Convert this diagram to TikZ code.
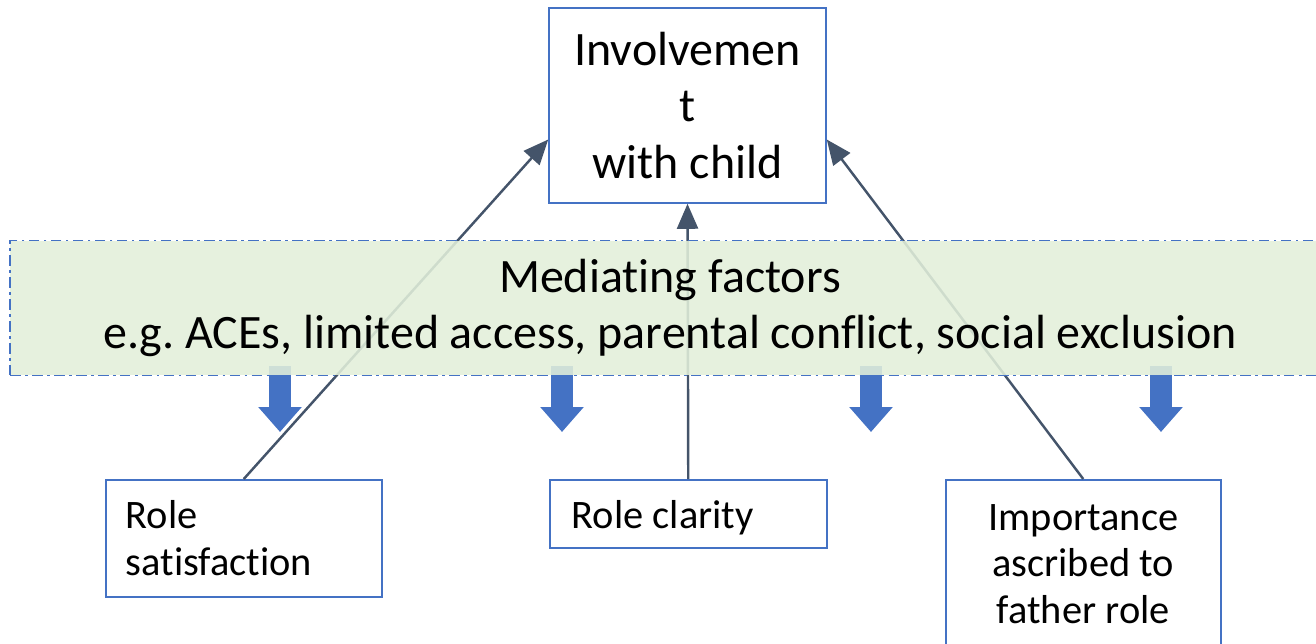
\documentclass[tikz,border=0pt]{standalone}
\usepackage{fontspec}
\setmainfont{Carlito}[Ligatures=NoCommon]
\usetikzlibrary{arrows.meta}

\definecolor{boxblue}{HTML}{4472C4}
\definecolor{slate}{HTML}{44546A}
\definecolor{bandgreen}{HTML}{E2EFDA}

\begin{document}
\frenchspacing
\begin{tikzpicture}[x=0.02cm, y=-0.02cm]
%% picture is laid out in pixels of the 1316x643 drawing
%% (x to the right, y downwards)
\tikzstyle{arc}=[-{Triangle[length=0.5cm,width=0.42cm]},slate,line width=1.4pt]
\tikzstyle{bigtext}=[font=\fontsize{27.3}{32.3}\selectfont]
\tikzstyle{smalltext}=[font=\fontsize{23}{26.6}\selectfont]
\tikzstyle{factorbox}=[draw=boxblue,line width=0.9pt,fill=white,inner sep=0pt,minimum width=5.54cm]
\tikzstyle{band}=[draw=boxblue,line width=1pt,dash pattern=on 6pt off 2.5pt on 1.5pt off 2.5pt,fill=bandgreen,fill opacity=0.88,text opacity=1,inner sep=0pt,minimum width=26.4cm,minimum height=2.7cm]
\tikzstyle{blockarrow}=[-{Triangle[length=0.5cm,width=0.84cm]},boxblue,line width=0.44cm]
\useasboundingbox (0,0) rectangle (1316,643);
%% TikZ-figure elements %%
\node[factorbox,bigtext,minimum height=3.9cm,align=center] at (687.5,105.5) (Involvement) {Involvemen\\t\\with child};
\node[factorbox,smalltext,minimum width=5.52cm,minimum height=2.34cm,inner xsep=0.4cm,text width=4.72cm,align=left,anchor=north west] at (105,479) (RoleSat) {Role\\satisfaction};
\node[factorbox,smalltext,minimum height=1.36cm,inner xsep=0.44cm,text width=4.66cm,align=left,anchor=north west] at (549,479) (RoleClar) {\spaceskip=0pt\raisebox{-0.08cm}[\height][\depth]{Role clarity}};
\node[factorbox,smalltext,minimum width=5.5cm,minimum height=5cm,align=center,anchor=north west] at (945,479) (Importance) {Importance\\ascribed to\\father role\\[0.7cm]};
%% arcs towards the involvement box
\draw[arc] (RoleSat.north) -- ([yshift=-0.68cm]Involvement.west);
\draw[arc] (RoleClar.north) -- (Involvement.south);
\draw[arc] (Importance.north) -- ([yshift=-0.68cm]Involvement.east);
%% block arrows below the band
\foreach \name/\px in {A1/280,A2/562,A3/871,A4/1161} {
  \coordinate (\name top) at (\px,366);
  \coordinate (\name tip) at (\px,432);
  \draw[blockarrow] (\name top) -- (\name tip);
}
%% mediating factors band drawn over the arcs
\node[band,bigtext,align=center] at (670,308) (Mediating) {Mediating factors\\e.g. ACEs, limited access, parental conflict, social exclusion};
\end{tikzpicture}
\end{document}
